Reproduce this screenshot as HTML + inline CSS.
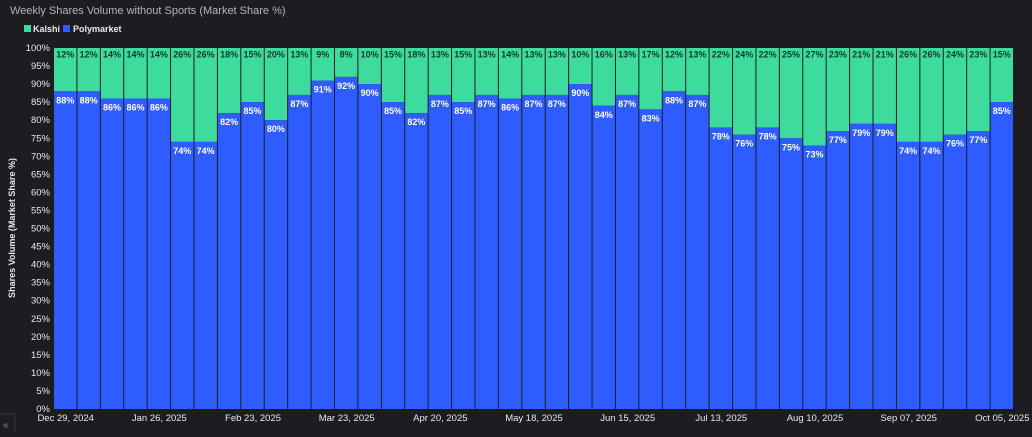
<!DOCTYPE html>
<html><head><style>
body{margin:0;width:1032px;height:432px;background:#1d1d21;overflow:hidden;font-family:"Liberation Sans",sans-serif;}
svg text{font-family:"Liberation Sans",sans-serif;}
</style></head><body>
<svg width="1032" height="432" xmlns="http://www.w3.org/2000/svg">
<rect width="1032" height="432" fill="#1d1d21"/>
<text x="10" y="14" fill="#b4b4b8" font-size="11">Weekly Shares Volume without Sports (Market Share %)</text>
<rect x="24" y="25" width="7" height="7" fill="#3ddc9c"/><text x="33" y="32" fill="#e8e8ea" font-size="9" font-weight="bold">Kalshi</text>
<rect x="63" y="25" width="7" height="7" fill="#2e5cff"/><text x="73" y="32" fill="#e8e8ea" font-size="9" font-weight="bold">Polymarket</text>
<text transform="translate(15,228) rotate(-90)" text-anchor="middle" fill="#e8e8ea" font-size="9" font-weight="bold">Shares Volume (Market Share %)</text>
<g id="yax" fill="#e8e8ea" font-size="9.5" text-anchor="end"></g>
<g id="bars"></g>
<g id="xax" fill="#e8e8ea" font-size="9.5" text-anchor="middle"></g>
<line x1="0" y1="414" x2="15" y2="414" stroke="#333"/>
<line x1="15" y1="414" x2="15" y2="432" stroke="#333"/>
<text x="3" y="428" fill="#888" font-size="10">«</text>
</svg>
<script>
(function(){
var P=[88,88,86,86,86,74,74,82,85,80,87,91,92,90,85,82,87,85,87,86,87,87,90,84,87,83,88,87,78,76,78,75,73,77,79,79,74,74,76,77,85];
var ns="http://www.w3.org/2000/svg";
function el(t,a,p,txt){var e=document.createElementNS(ns,t);for(var k in a)e.setAttribute(k,a[k]);if(txt!==undefined)e.textContent=txt;document.getElementById(p).appendChild(e);}
var x0=54,x1=1014,yt=48,yb0=409,hh=yb0-yt,w=(x1-x0)/P.length;
for(var i=0;i<=20;i++){var v=i*5;el('text',{x:50,y:yb0-hh*v/100+3},'yax',v+'%');}
P.forEach(function(p,i){var x=x0+i*w;var yb=yb0-hh*p/100;
el('rect',{x:x,y:yt,width:w-1,height:yb-yt,fill:'#3ddc9c'},'bars');
el('rect',{x:x,y:yb,width:w-1,height:yb0-yb,fill:'#2e5cff'},'bars');
el('text',{x:x+w/2-0.5,y:yt+9.5,'text-anchor':'middle','font-size':'9','fill':'#0f3a2a','font-weight':'bold'},'bars',(100-p)+'%');
el('text',{x:x+w/2-0.5,y:yb+12,'text-anchor':'middle','font-size':'9','fill':'#ffffff','font-weight':'bold'},'bars',p+'%');
});
var L=["Dec 29, 2024","Jan 26, 2025","Feb 23, 2025","Mar 23, 2025","Apr 20, 2025","May 18, 2025","Jun 15, 2025","Jul 13, 2025","Aug 10, 2025","Sep 07, 2025","Oct 05, 2025"];
L.forEach(function(l,k){el('text',{x:x0+k*4*w+w/2,y:421},'xax',l);});
})();
</script>
</body></html>
